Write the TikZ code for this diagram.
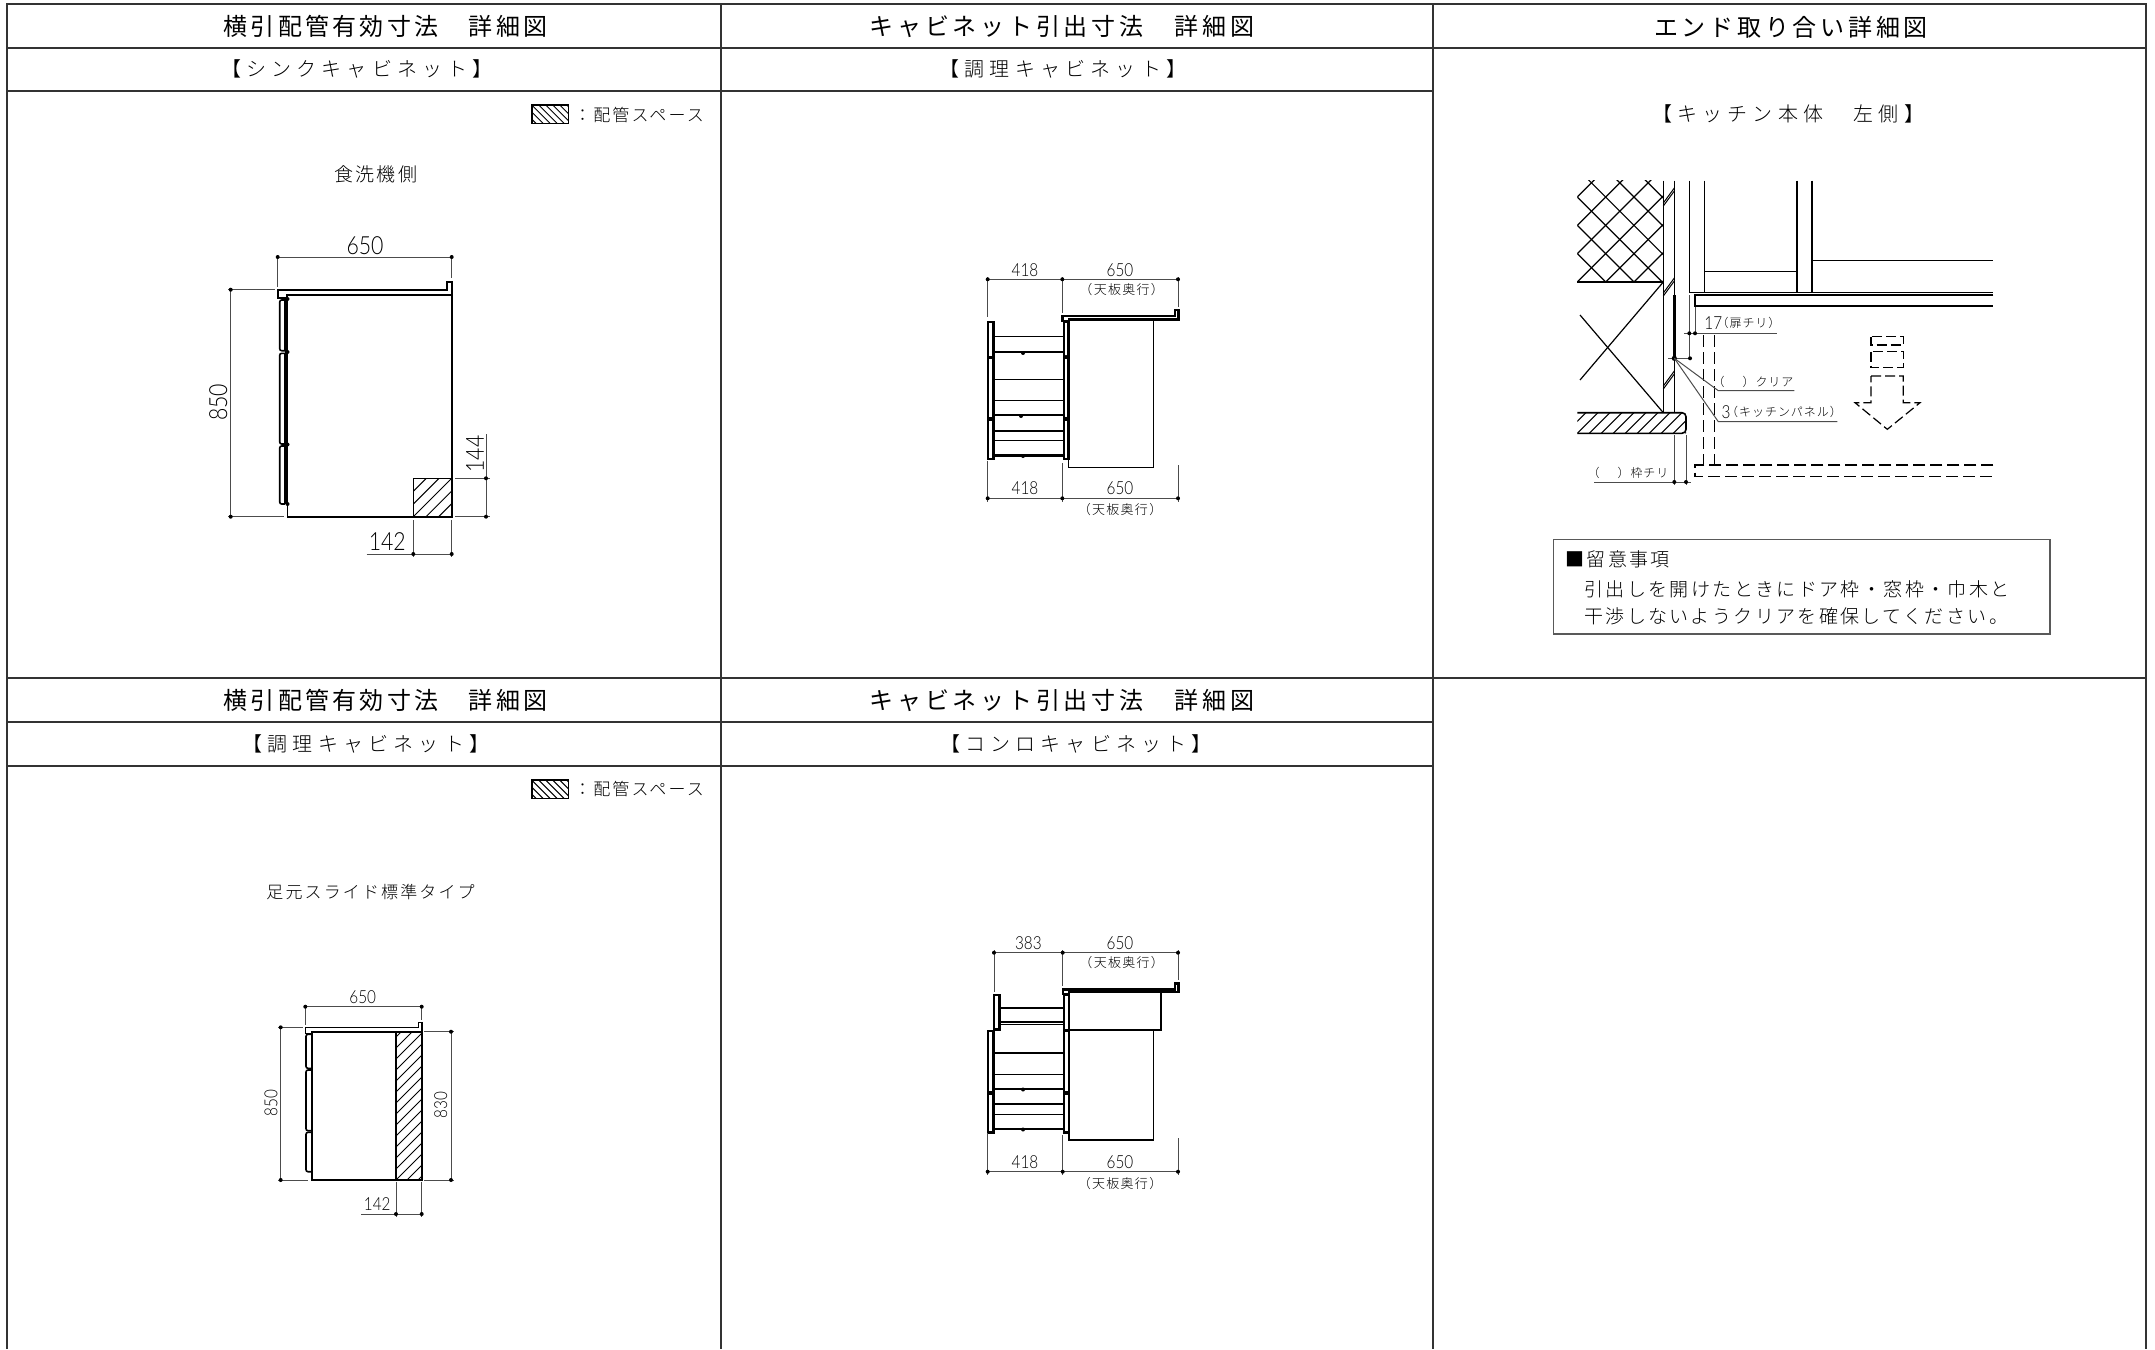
\documentclass[tikz,border=0pt]{standalone}
\usepackage{fontspec}
\newfontfamily\cjkA[LetterSpace=13.5]{Noto Sans CJK JP}
\newfontfamily\cjkAw[LetterSpace=15.5]{Noto Sans CJK JP}
\newfontfamily\cjkB[LetterSpace=26]{Noto Sans CJK JP Light}
\newfontfamily\cjkC[LetterSpace=12.5]{Noto Sans CJK JP Light}
\newfontfamily\cjkD[LetterSpace=8]{Noto Sans CJK JP Light}
\newfontfamily\cjkE[LetterSpace=10]{Noto Sans CJK JP Light}
\newfontfamily\cadf[FakeStretch=0.85]{Lato Light}
\newcommand{\fHead}{\cjkA\fontsize{12pt}{14pt}\selectfont}
\newcommand{\fHeadW}{\cjkAw\fontsize{12pt}{14pt}\selectfont}
\newcommand{\fSub}{\cjkB\fontsize{10pt}{12pt}\selectfont}
\newcommand{\fNote}{\cjkC\fontsize{9.5pt}{11pt}\selectfont}
\newcommand{\fLeg}{\cjkC\fontsize{8.5pt}{10pt}\selectfont}
\newcommand{\fTiny}{\cjkE\fontsize{6.5pt}{7pt}\selectfont}
\newcommand{\fLead}{\cjkD\fontsize{6pt}{7pt}\selectfont}
\newcommand{\fBig}{\cadf\fontsize{12.5pt}{14pt}\selectfont}
\newcommand{\fNum}{\cadf\fontsize{9pt}{11pt}\selectfont}
\tikzset{
  grid line/.style={line width=0.7pt,black!80},
  thinl/.style={line width=0.5pt,black},
  med/.style={line width=0.8pt,black},
  heavy/.style={line width=1.2pt,black},
  dimn/.style={line width=0.5pt,black!70},
  dash line/.style={line width=0.6pt,black,dash pattern=on 6pt off 2.5pt},
  lab/.style={inner sep=0pt,anchor=center,text=black},
  hdr/.style={lab,font=\fHead},
  hdrw/.style={lab,font=\fHeadW},
  sub/.style={lab,font=\fSub},
  note/.style={lab,font=\fNote},
  leg/.style={lab,font=\fLeg},
  tiny/.style={lab,font=\fTiny},
  lead/.style={lab,font=\fLead},
  big/.style={lab,font=\fBig},
  num/.style={lab,font=\fNum},
}
\newcommand{\tk}[1]{\fill (#1) circle[radius=2];}
% x1 y1 x2 y2 spacing : "/" hatch
\newcommand{\hatchF}[5]{\begin{scope}\clip (#1,#2) rectangle (#3,#4);
 \foreach \k in {-40,...,40}{\draw[thinl] (#1+\k*#5,#4) -- (#1+\k*#5+#4-#2,#2);}
 \end{scope}}
% x1 y1 x2 y2 height spacing : "\" hatch
\newcommand{\hatchB}[6]{\begin{scope}\clip (#1,#2) rectangle (#3,#4);
 \foreach \k in {-40,...,40}{\draw[thinl] (#1+\k*#6,#2) -- (#1+\k*#6+#5,#4);}
 \end{scope}}
\begin{document}
\begin{tikzpicture}[x=0.5pt,y=-0.5pt]
\useasboundingbox (0,0) rectangle (2155,1349);
% ---------- table
\draw[grid line] (7,1349) -- (7,4) -- (2146,4) -- (2146,1349);
\draw[grid line] (721,4) -- (721,1349);
\draw[grid line] (1433,4) -- (1433,1349);
\draw[grid line] (7,48) -- (2146,48);
\draw[grid line] (7,91) -- (1433,91);
\draw[grid line] (7,678) -- (2146,678);
\draw[grid line] (7,722) -- (1433,722);
\draw[grid line] (7,766) -- (1433,766);
\node[hdr] (h1) at (385.5,26) {横引配管有効寸法　詳細図};
\node[hdrw] (h2) at (1062,26) {キャビネット引出寸法　詳細図};
\node[hdrw] (h3) at (1791,27) {エンド取り合い詳細図};
\node[hdr] (h4) at (385.5,700) {横引配管有効寸法　詳細図};
\node[hdrw] (h5) at (1062,700) {キャビネット引出寸法　詳細図};
\node[sub] (s1) at (357,69) {【シンクキャビネット】};
\node[sub] (s2) at (1063,69) {【調理キャビネット】};
\node[sub] (s3) at (366,744) {【調理キャビネット】};
\node[sub] (s4) at (1076,744) {【コンロキャビネット】};
\node[sub] (s5) at (1788,114) {【キッチン本体　左側】};
% ---------- legends
\foreach \yy in {105,780}{
  \pgfmathsetmacro\yb{\yy+18.3}
  \hatchB{531.7}{\yy}{568.3}{\yb}{18.3}{7}
  \draw[med] (531.7,\yy) rectangle (568.3,\yb);
}
\node[leg] (lg1) at (639,115) {：配管スペース};
\node[leg] (lg2) at (639,789) {：配管スペース};
% ---------- figure 1 : sink
\node[note] (f1) at (375.7,174) {食洗機側};
\hatchF{413.3}{478.3}{451.7}{516.7}{12.7}
\draw[med] (413.3,478.3) rectangle (451.7,516.7);
\draw[med] (277.7,289.7) -- (446.7,289.7) -- (446.7,281.7) -- (451.7,281.7) -- (451.7,295) -- (286.7,295) -- (286.7,297.7) -- (277.7,297.7) -- cycle;
\draw[heavy] (286.7,295) -- (451.7,295);
\draw[med] (451.7,295) -- (451.7,516.7) -- (287.3,516.7) -- (287.3,505);
\draw[heavy] (286.5,297) -- (286.5,504);
\foreach \a/\b in {300/350.7,353.3/444,446/504}{
  \draw[med,rounded corners=1pt] (285,\a) -- (279.7,\a) -- (279.7,\b) -- (285,\b);
  \draw[med] (285,\a) -- (285,\b);
}
\foreach \y in {299,352,444.5,504}{\tk{287.5,\y}}
\draw[dimn] (277.7,255) -- (277.7,286.7);
\draw[dimn] (451.7,255) -- (451.7,278);
\draw[dimn] (277.7,257) -- (451.7,257);
\tk{277.7,257}\tk{451.7,257}
\node[big] (d1) at (365,245.7) {650};
\draw[dimn] (228,289.7) -- (275,289.7);
\draw[dimn] (228,516.7) -- (284,516.7);
\draw[dimn] (230.7,289.7) -- (230.7,516.7);
\tk{230.7,289.7}\tk{230.7,516.7}
\node[big,rotate=90] (d2) at (218.3,402.3) {850};
\draw[dimn] (455,478.3) -- (490,478.3);
\draw[dimn] (455,516.7) -- (490,516.7);
\draw[dimn] (486,434) -- (486,516.7);
\tk{486,478.3}\tk{486,516.7}
\node[big,rotate=90] (d3) at (475,454) {144};
\draw[dimn] (413.3,520) -- (413.3,556.7);
\draw[dimn] (451.7,520) -- (451.7,556.7);
\draw[dimn] (366.7,554) -- (451.7,554);
\tk{413.3,554}\tk{451.7,554}
\node[big] (d4) at (387.3,541.7) {142};
% ---------- figure 2 : cooking cabinet
\draw[heavy] (1062.3,315.7) -- (1175,315.7) -- (1175,310) -- (1178.3,310) -- (1178.3,319.3) -- (1069,319.3) -- (1069,321) -- (1062.3,321) -- cycle;
\draw[med] (1068.3,319.3) -- (1068.3,467.3) -- (1153.3,467.3) -- (1153.3,319.3);
\draw[heavy] (1064,321.7) rectangle (1068.3,356.7);
\draw[heavy] (1064,357.7) rectangle (1068.3,418.3);
\draw[heavy] (1064,419.3) rectangle (1068.3,459);
\foreach \a/\b in {321.7/356.7,357.7/418.3,419.3/459}{\draw[heavy] (987.7,\a) rectangle (993.3,\b);}
\foreach \y in {336.7,400,440.7}{\draw[thinl] (993.3,\y) -- (1064,\y);}
\foreach \y in {379.3,431}{\draw[med] (993.3,\y) -- (1064,\y);}
\foreach \y in {352,415,455.3}{\draw[heavy] (993.3,\y) -- (1064,\y);}
\tk{1023,353}\tk{1021,416}\tk{1023,456}
\tk{1066,357}\tk{1066,418.8}
\draw[dimn] (987.7,277) -- (987.7,317.3);
\draw[dimn] (1062.3,277) -- (1062.3,312.7);
\draw[dimn] (1178,277) -- (1178,306.7);
\draw[dimn] (987.7,279.3) -- (1178,279.3);
\tk{987.7,279.3}\tk{1062.3,279.3}\tk{1178,279.3}
\node[num] (n1) at (1025,270) {418};
\node[num] (n2) at (1120,270) {650};
\node[tiny] (n3) at (1121.7,290) {（天板奥行）};
\draw[dimn] (987.7,460.7) -- (987.7,501.7);
\draw[dimn] (1062.3,463.3) -- (1062.3,501.7);
\draw[dimn] (1178,465) -- (1178,501.7);
\draw[dimn] (987.7,498.3) -- (1178,498.3);
\tk{987.7,498.3}\tk{1062.3,498.3}\tk{1178,498.3}
\node[num] (n4) at (1025,488.3) {418};
\node[num] (n5) at (1120,488.3) {650};
\node[tiny] (n6) at (1120,510) {（天板奥行）};
% ---------- figure 3 : left end detail
\begin{scope}
 \clip (1577.3,180.7) rectangle (1663.3,282);
 \foreach \k in {-5,...,12}{
  \draw[thinl,line width=0.6pt] (1577.3+\k*28.33,282) -- (1577.3+\k*28.33+110,172);
  \draw[thinl,line width=0.6pt] (1577.3+\k*28.33,282) -- (1577.3+\k*28.33-110,172);
 }
\end{scope}
\draw[med] (1577.3,282) -- (1663.3,282);
\draw[med] (1663.3,180.7) -- (1663.3,412.7);
\draw[med] (1674.3,180.7) -- (1674.3,412.7);
\draw[heavy] (1674.3,295) -- (1674.3,360);
\foreach \y in {203,293,386}{
 \draw[thinl] (1663.3,\y) -- (1674.3,\y-15);
 \draw[thinl] (1663.3,\y+3) -- (1674.3,\y-12);
}
\draw[thinl,line width=0.6pt] (1663.3,282) -- (1580,380);
\draw[thinl,line width=0.6pt] (1580,315) -- (1663.3,412.7);
\hatchF{1577.3}{412.7}{1686}{433.3}{12}
\draw[med,rounded corners=2pt] (1577.3,412.7) -- (1686,412.7) -- (1686,433.3) -- (1577.3,433.3);
\draw[med] (1689.3,180.7) -- (1689.3,292.3);
\draw[med] (1704.3,180.7) -- (1704.3,292.3);
\draw[med] (1797,180.7) -- (1797,292.3);
\draw[med] (1811.7,180.7) -- (1811.7,292.3);
\draw[thinl] (1704.3,271) -- (1797,271);
\draw[thinl] (1811.7,260.7) -- (1993.3,260.7);
\draw[med] (1689.3,292.3) -- (1993.3,292.3);
\draw[med] (1993.3,295) -- (1695,295) -- (1695,306) -- (1993.3,306);
\draw[dimn] (1689.3,295) -- (1689.3,360);
\draw[dimn] (1695,307) -- (1695,335);
\draw[dimn] (1684,333.3) -- (1776.7,333.3);
\tk{1689.3,333.3}\tk{1695,333.3}
\node[num] (e1) at (1713.3,323) {17};
\node[lead] (e2) at (1748.5,323) {（扉チリ）};
\draw[dash line] (1703.3,335) -- (1703.3,465);
\draw[dash line] (1714.3,335) -- (1714.3,465);
\draw[dash line] (1993.3,465) -- (1695,465) -- (1695,476.7) -- (1993.3,476.7);
\draw[dimn] (1668.3,358.3) -- (1690,358.3);
\fill (1674.3,358.3) circle[radius=2.6];
\tk{1690,358.3}
\draw[dimn] (1674.3,358.3) -- (1718.3,390.7) -- (1794.3,390.7);
\draw[dimn] (1674.3,358.3) -- (1718.3,421.7) -- (1837.3,421.7);
\node[lead] (e3) at (1753,381.7) {（\hspace{2.5pt}　）クリア};
\node[num] (e4) at (1726,412.3) {3};
\node[lead] (e5) at (1784,412.3) {（キッチンパネル）};
\draw[dimn] (1674.3,435) -- (1674.3,485);
\draw[dimn] (1686,435) -- (1686,485);
\draw[dimn] (1594,482) -- (1690.7,482);
\tk{1674.3,482}\tk{1686,482}
\node[lead] (e6) at (1628,472.7) {（\hspace{2.5pt}　）枠チリ};
\draw[dash line,dash pattern=on 5pt off 2pt] (1871,336.7) rectangle (1903.3,345);
\draw[dash line,dash pattern=on 5pt off 2pt] (1871,351.7) rectangle (1903.3,367.3);
\draw[dash line,dash pattern=on 5pt off 2pt] (1871,376) -- (1903.3,376) -- (1903.3,402.7) -- (1920,402.7) -- (1887.3,429.3) -- (1855,402.7) -- (1871,402.7) -- cycle;
\draw[line width=0.6pt,black!65] (1553.3,539.3) rectangle (2050,634);
\node[note,anchor=west] (b1) at (1565,559.5) {■留意事項};
\node[note,anchor=west] (b2) at (1584,589.5) {引出しを開けたときにドア枠・窓枠・巾木と};
\node[note,anchor=west] (b3) at (1584,616.5) {干渉しないようクリアを確保してください。};
% ---------- figure 4 : lower left
\node[lab,font=\fLeg] (f4) at (370.5,892) {足元スライド標準タイプ};
\hatchF{396}{1031.7}{421.7}{1180}{11}
\draw[med] (305.3,1027.3) -- (418.3,1027.3) -- (418.3,1022.3) -- (421.7,1022.3) -- (421.7,1031.7) -- (311.7,1031.7) -- (311.7,1033.3) -- (305.3,1033.3) -- cycle;
\draw[heavy] (311.7,1031.7) -- (421.7,1031.7);
\draw[med] (421.7,1031.7) -- (421.7,1180) -- (311.7,1180) -- (311.7,1172);
\draw[heavy] (311.7,1031.7) -- (311.7,1172);
\draw[heavy] (396,1031.7) -- (396,1180);
\foreach \a/\b in {1034.3/1068.3,1070/1130.7,1132.3/1171.7}{
  \draw[med,rounded corners=1pt] (311,\a) -- (306,\a) -- (306,\b) -- (311,\b);
}
\draw[dimn] (305.3,1005) -- (305.3,1025);
\draw[dimn] (421.7,1005) -- (421.7,1020);
\draw[dimn] (305.3,1006.7) -- (421.7,1006.7);
\tk{305.3,1006.7}\tk{421.7,1006.7}
\node[num] (g1) at (362.7,997.3) {650};
\draw[dimn] (278,1027.3) -- (303.3,1027.3);
\draw[dimn] (278,1180) -- (308,1180);
\draw[dimn] (280.7,1027.3) -- (280.7,1180);
\tk{280.7,1027.3}\tk{280.7,1180}
\node[num,rotate=90] (g2) at (271,1103.3) {850};
\draw[dimn] (424,1031.7) -- (454.3,1031.7);
\draw[dimn] (424,1180) -- (454.3,1180);
\draw[dimn] (451,1031.7) -- (451,1180);
\tk{451,1031.7}\tk{451,1180}
\node[num,rotate=90] (g3) at (440.7,1105) {830};
\draw[dimn] (396,1181.7) -- (396,1216.7);
\draw[dimn] (421.7,1181.7) -- (421.7,1216.7);
\draw[dimn] (361,1214) -- (421.7,1214);
\tk{396,1214}\tk{421.7,1214}
\node[num] (g4) at (377.3,1204) {142};
% ---------- figure 5 : stove cabinet
\draw[heavy] (1062.7,989.3) -- (1175,989.3) -- (1175,983.3) -- (1178.3,983.3) -- (1178.3,991.7) -- (1069,991.7) -- (1069,994) -- (1062.7,994) -- cycle;
\draw[med] (1069,991.7) -- (1069,1140) -- (1153.3,1140) -- (1153.3,1030);
\draw[med] (1069,1030) -- (1160.7,1030) -- (1160.7,991.7);
\draw[heavy] (1064,995) rectangle (1069,1030.5);
\draw[heavy] (1064,1031) rectangle (1069,1092.5);
\draw[heavy] (1064,1093.5) rectangle (1069,1132.3);
\draw[heavy] (994,995) rectangle (999.3,1029.3);
\draw[heavy] (987.7,1031) rectangle (993.3,1092.3);
\draw[heavy] (987.7,1093.3) rectangle (993.3,1132.3);
\foreach \y in {1007.7,1021.7}{\draw[heavy] (999.3,\y) -- (1064,\y);}
\draw[med] (999.3,1024.5) -- (1064,1024.5);
\foreach \y in {1074,1114}{\draw[thinl] (993.3,\y) -- (1064,\y);}
\foreach \y in {1052.7,1104}{\draw[med] (993.3,\y) -- (1064,\y);}
\foreach \y in {1088.7,1129}{\draw[heavy] (993.3,\y) -- (1064,\y);}
\tk{1023,1089.5}\tk{1023,1129.5}
\draw[dimn] (994,950) -- (994,991.7);
\draw[dimn] (1062.7,950) -- (1062.7,985.7);
\draw[dimn] (1178,950) -- (1178,980);
\draw[dimn] (994,952.7) -- (1178,952.7);
\tk{994,952.7}\tk{1062.7,952.7}\tk{1178,952.7}
\node[num] (k1) at (1028.3,943.3) {383};
\node[num] (k2) at (1120,943.3) {650};
\node[tiny] (k3) at (1121.7,962.7) {（天板奥行）};
\draw[dimn] (987.7,1133.3) -- (987.7,1175);
\draw[dimn] (1062.7,1135) -- (1062.7,1175);
\draw[dimn] (1178,1138.3) -- (1178,1175);
\draw[dimn] (987.7,1171.7) -- (1178,1171.7);
\tk{987.7,1171.7}\tk{1062.7,1171.7}\tk{1178,1171.7}
\node[num] (k4) at (1025,1161.7) {418};
\node[num] (k5) at (1120,1161.7) {650};
\node[tiny] (k6) at (1120,1183.3) {（天板奥行）};
\end{tikzpicture}
\end{document}
